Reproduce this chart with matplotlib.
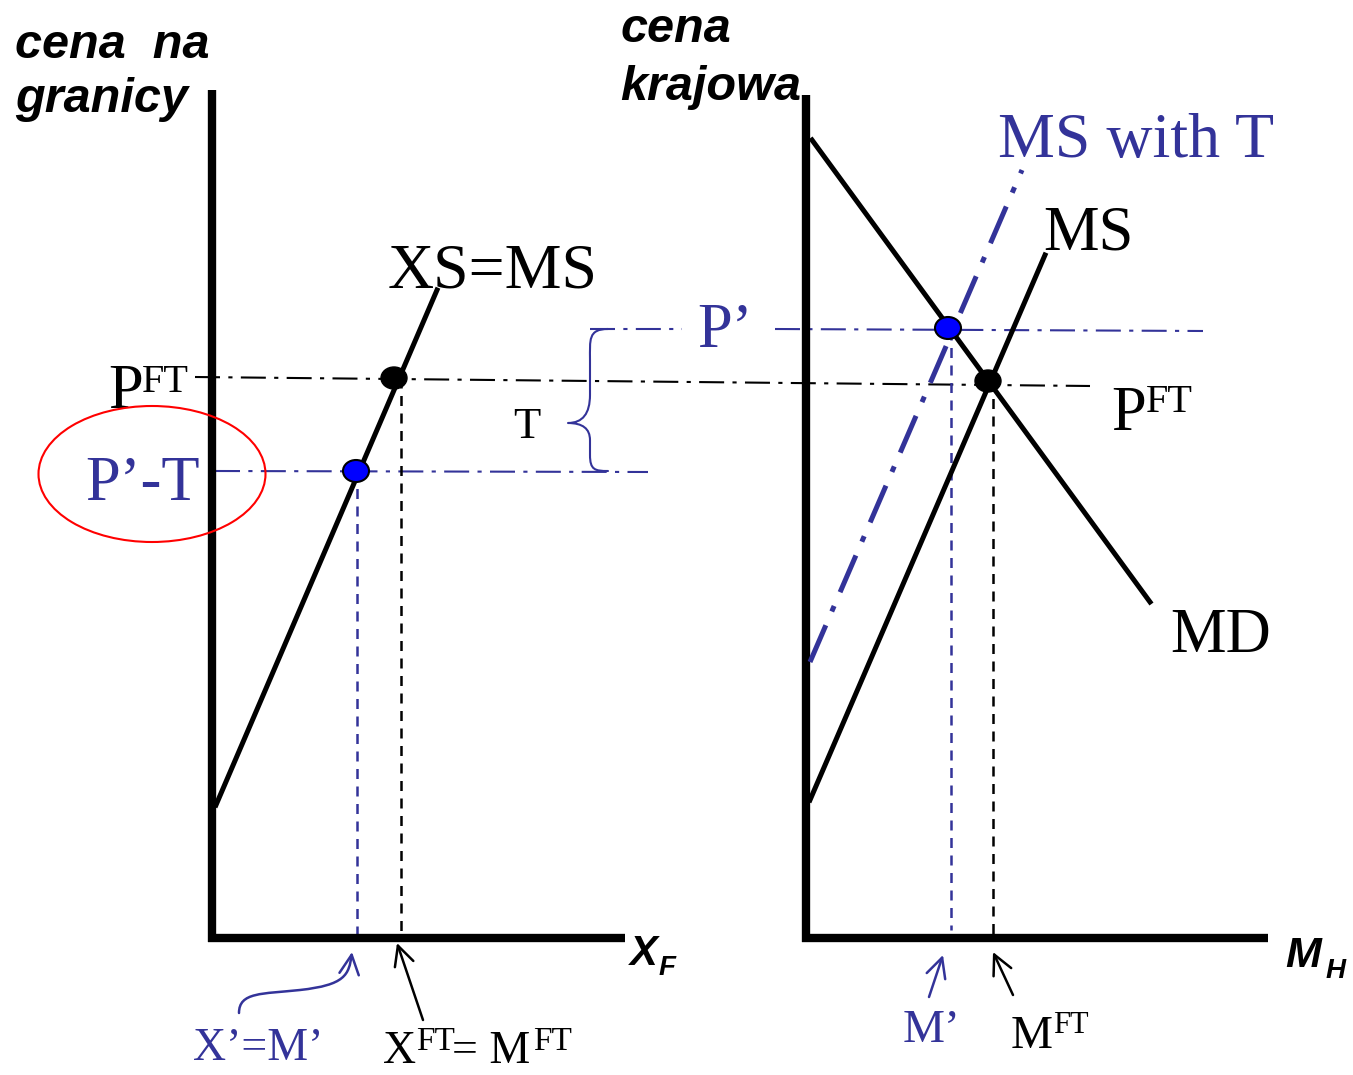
import matplotlib
matplotlib.use("Agg")
import matplotlib.pyplot as plt
from matplotlib.patches import Ellipse, FancyArrowPatch
from matplotlib.path import Path

# diagram geometry, in pixel units of the original picture (y grows downwards)
left_yaxis_x, left_yaxis_y = [212, 212], [90, 942]
left_xaxis_x, left_xaxis_y = [208, 625], [938, 938]
right_yaxis_x, right_yaxis_y = [806, 806], [95, 942]
right_xaxis_x, right_xaxis_y = [802, 1268], [938, 938]

xs_ms_x, xs_ms_y = [216, 437], [805, 290]
md_x, md_y = [812, 1150], [140, 602]
ms_x, ms_y = [810, 1045], [800, 255]
ms_t_x, ms_t_y = [810, 1022], [662, 170]

# equilibrium points: free trade (black) and with tariff (blue)
eq_ft_x, eq_ft_y = [394, 988], [378, 381]
eq_t_x, eq_t_y = [356, 948], [471, 328]

# guide lines
pft_x, pft_y = [195, 1090], [377, 386]
pt_x, pt_y = [215, 648], [471, 472]
p1_x, p1_y = [590, 682], [329, 329]
p2_x, p2_y = [775, 1203], [329, 331]
vft_left_x, vft_left_y = [401, 401], [378, 936]
vt_left_x, vt_left_y = [357, 357], [471, 936]
vft_right_x, vft_right_y = [993, 993], [381, 936]
vt_right_x, vt_right_y = [951, 951], [330, 930]
vt_axis_x, vt_axis_y = [803, 803], [330, 936]

BLUE = "#333399"
SERIF = "Liberation Serif"
SANS = "Liberation Sans"

fig = plt.figure(figsize=(13.53, 10.75), dpi=100)
ax = fig.add_axes([0, 0, 1, 1])
ax.set_xlim(0, 1353)
ax.set_ylim(1075, 0)
ax.axis("off")

dashdot = (0, (12, 4, 2, 4))
dashed = (0, (4, 3))

# guides first, so curves sit on top
ax.plot(pft_x, pft_y, color="black", lw=1.5, ls=dashdot)
ax.plot(pt_x, pt_y, color=BLUE, lw=1.5, ls=dashdot)
ax.plot(p1_x, p1_y, color=BLUE, lw=1.5, ls=dashdot)
ax.plot(p2_x, p2_y, color=BLUE, lw=1.5, ls=dashdot)
ax.plot(vft_left_x, vft_left_y, color="black", lw=1.8, ls=dashed)
ax.plot(vt_left_x, vt_left_y, color=BLUE, lw=1.8, ls=dashed)
ax.plot(vft_right_x, vft_right_y, color="black", lw=1.8, ls=dashed)
ax.plot(vt_right_x, vt_right_y, color=BLUE, lw=1.8, ls=dashed)
ax.plot(vt_axis_x, vt_axis_y, color=BLUE, lw=1.8, ls=dashed)

# axes of both panels
for xx, yy in [(left_yaxis_x, left_yaxis_y), (left_xaxis_x, left_xaxis_y),
               (right_yaxis_x, right_yaxis_y), (right_xaxis_x, right_xaxis_y)]:
    ax.plot(xx, yy, color="black", lw=6, solid_capstyle="butt")

# curves
ax.plot(xs_ms_x, xs_ms_y, color="black", lw=3.6)
ax.plot(md_x, md_y, color="black", lw=3.6)
ax.plot(ms_x, ms_y, color="black", lw=3.6)
ax.plot(ms_t_x, ms_t_y, color=BLUE, lw=3.6, ls=(0, (8, 3, 1.2, 3)))

for x, y in zip(eq_ft_x, eq_ft_y):
    ax.add_patch(Ellipse((x, y), 26, 22, facecolor="black", edgecolor="black", lw=1, zorder=5))
for x, y in zip(eq_t_x, eq_t_y):
    ax.add_patch(Ellipse((x, y), 26, 22, facecolor="#0000ff", edgecolor="black", lw=1.5, zorder=5))

# red ellipse around P'-T
ax.add_patch(Ellipse((152, 474), 227, 136, fill=False, edgecolor="red", lw=1.5, zorder=6))

# brace for T
brace = Path([(608, 329), (588, 329), (590, 340), (590, 360),
              (590, 395), (590, 423), (568, 423),
              (590, 423), (590, 440), (590, 455),
              (590, 470), (595, 471), (608, 471)],
             [Path.MOVETO, Path.CURVE4, Path.CURVE4, Path.CURVE4,
              Path.LINETO, Path.CURVE3, Path.CURVE3,
              Path.CURVE3, Path.CURVE3, Path.LINETO,
              Path.CURVE4, Path.CURVE4, Path.CURVE4])
ax.add_patch(FancyArrowPatch(path=brace, arrowstyle="-", color=BLUE, lw=1.5))

# arrows under the quantity axes
arr = dict(arrowstyle="->", mutation_scale=35, lw=1.8, shrinkA=0, shrinkB=0)
ax.add_patch(FancyArrowPatch((423, 1020), (397, 943), color="black", **arr))
ax.add_patch(FancyArrowPatch((929, 997), (943, 955), color=BLUE, **arr))
ax.add_patch(FancyArrowPatch((1013, 995), (993, 952), color="black", **arr))
curl = Path([(239, 1013), (239, 992), (262, 994), (300, 990),
             (345, 985), (349, 975), (352, 952)],
            [Path.MOVETO, Path.CURVE4, Path.CURVE4, Path.CURVE4,
             Path.CURVE4, Path.CURVE4, Path.CURVE4])
ax.add_patch(FancyArrowPatch(path=curl, color=BLUE, **arr))

# axis titles
ital = dict(family=SANS, weight="bold", style="italic", color="black")
ax.text(15, 58, "cena  na", fontsize=35, **ital)
ax.text(15, 112, "granicy", fontsize=35, **ital)
ax.text(620, 42, "cena", fontsize=35, **ital)
ax.text(620, 100, "krajowa", fontsize=35, **ital)
ax.text(630, 965, "X", fontsize=30, **ital)
ax.text(659, 975, "F", fontsize=20, **ital)
ax.text(1285, 967, "M", fontsize=31, **ital)
ax.text(1326, 978, "H", fontsize=20, **ital)

# curve and price labels
ax.text(388, 288, "XS=MS", fontsize=46, family=SERIF, color="black")
ax.text(998, 157, "MS with T", fontsize=46, family=SERIF, color=BLUE)
ax.text(1043, 250, "MS", fontsize=45, family=SERIF, color="black")
ax.text(1170, 652, "MD", fontsize=45, family=SERIF, color="black")
ax.text(108, 408, "P", fontsize=45, family=SERIF, color="black")
ax.text(142, 392, "FT", fontsize=29, family=SERIF, color="black")
ax.text(1111, 430, "P", fontsize=45, family=SERIF, color="black")
ax.text(1146, 412, "FT", fontsize=29, family=SERIF, color="black")
ax.text(85, 500, "P\u2019-T", fontsize=45, family=SERIF, color=BLUE, zorder=7)
ax.text(697, 347, "P\u2019", fontsize=45, family=SERIF, color=BLUE)
ax.text(513, 438, "T", fontsize=32, family=SERIF, color="black")

# quantity labels
ax.text(193, 1060, "X\u2019=M\u2019", fontsize=33, family=SERIF, color=BLUE)
ax.text(383, 1063, "X", fontsize=33, family=SERIF, color="black")
ax.text(416, 1050, "FT", fontsize=24, family=SERIF, color="black")
ax.text(452, 1063, "= M", fontsize=33, family=SERIF, color="black")
ax.text(533, 1050, "FT", fontsize=24, family=SERIF, color="black")
ax.text(903, 1042, "M\u2019", fontsize=34, family=SERIF, color=BLUE)
ax.text(1011, 1048, "M", fontsize=34, family=SERIF, color="black")
ax.text(1053, 1033, "FT", fontsize=22, family=SERIF, color="black")

fig.savefig("out.png", dpi=100)
